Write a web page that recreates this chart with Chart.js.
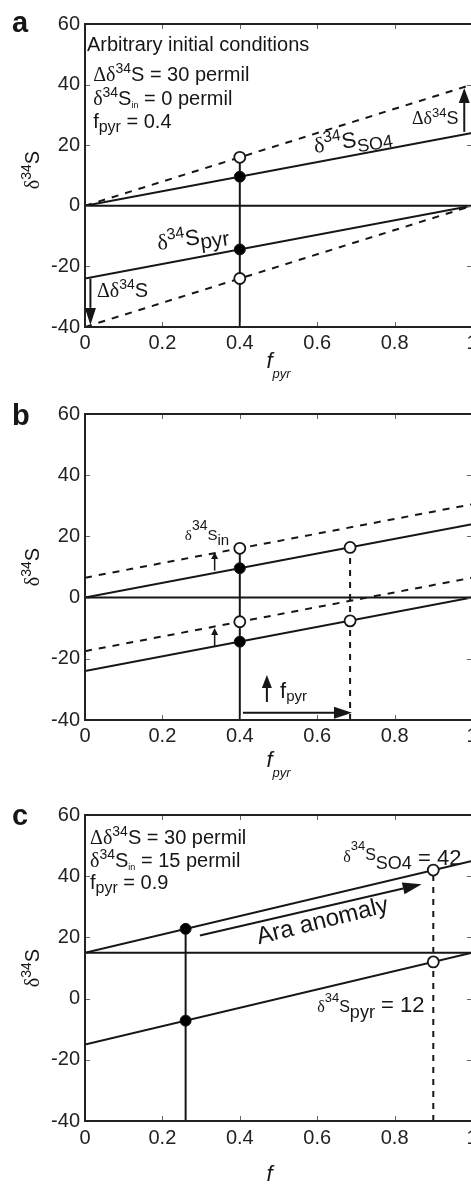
<!DOCTYPE html>
<html>
<head>
<meta charset="utf-8">
<script src="https://cdn.jsdelivr.net/npm/chart.js@4.4.1/dist/chart.umd.min.js"></script>
<style>
  html, body { margin: 0; padding: 0; background: #fff; }
  #wrap { position: relative; width: 471px; height: 1184px; overflow: hidden; }
  .panel { position: absolute; left: 0; width: 490px; }
</style>
</head>
<body>
<div id="wrap">
  <div class="panel" style="top:0;height:390px"><canvas id="chartA" width="490" height="390"></canvas></div>
  <div class="panel" style="top:390px;height:400px"><canvas id="chartB" width="490" height="400"></canvas></div>
  <div class="panel" style="top:790px;height:394px"><canvas id="chartC" width="490" height="394"></canvas></div>
</div>
<script>
// eixos comuns
const fTicks = [0, 0.2, 0.4, 0.6, 0.8, 1];
const dTicks = [-40, -20, 0, 20, 40, 60];
const fEnds = [0, 1];

// painel a - condições iniciais
const aIn = [0, 0];
const aSO4 = [0, 24];
const aPyr = [-24, 0];
const aSO4New = [0, 40];
const aPyrNew = [-40, 0];
const aPick = 0.4;
const aFilled = [9.6, -14.4];
const aOpen = [16, -24];
const aDrop = [-40, 16];

// painel b - aumento de d34S_in e de f_pyr
const bIn = [0, 0];
const bSO4 = [0, 24];
const bPyr = [-24, 0];
const bSO4New = [6.5, 30.5];
const bPyrNew = [-17.5, 6.5];
const bPick = 0.4;
const bFilled = [9.6, -14.4];
const bOpen = [16.1, -7.9];
const bDrop = [-40, 16];
const bPick2 = 0.685;
const bOpen2 = [16.4, -7.6];
const bDrop2 = [-40, 16.4];

// painel c - anomalia Ara
const cIn = [15, 15];
const cSO4 = [15, 45];
const cPyr = [-15, 15];
const cPick = 0.26;
const cFilled = [22.8, -7.2];
const cDrop = [-40, 22.8];
const cPick2 = 0.9;
const cOpen2 = [42, 12];
const cDrop2 = [-40, 42];

const INK = '#161616';
const SANS = '"Liberation Sans", Arial, sans-serif';
const SERIF = '"Liberation Serif", "Times New Roman", serif';

function N(t, size, dy) { return { t, size: size || 20, dy: dy || 0, fam: SANS, st: '' }; }
function G(t, size, dy) { return { t, size: size || 20, dy: dy || 0, fam: SERIF, st: '' }; }
function I(t, size, dy) { return { t, size: size || 20, dy: dy || 0, fam: SANS, st: 'italic ' }; }
function B(t, size) { return { t, size, dy: 0, fam: SANS, st: 'bold ' }; }

function fontOf(p) { return p.st + p.size + 'px ' + p.fam; }

function drawRich(ctx, x, y, parts, align, rot) {
  ctx.save();
  ctx.translate(x, y);
  if (rot) ctx.rotate(rot * Math.PI / 180);
  ctx.textBaseline = 'alphabetic';
  ctx.textAlign = 'left';
  ctx.fillStyle = INK;
  const widths = parts.map(p => { ctx.font = fontOf(p); return ctx.measureText(p.t).width; });
  const total = widths.reduce((a, b) => a + b, 0);
  let cx = align === 'center' ? -total / 2 : align === 'right' ? -total : 0;
  parts.forEach((p, i) => {
    ctx.font = fontOf(p);
    ctx.fillText(p.t, cx, p.dy);
    cx += widths[i];
  });
  ctx.restore();
}

function drawArrow(ctx, x0, y0, x1, y1, head, lw) {
  const ang = Math.atan2(y1 - y0, x1 - x0);
  const hl = head[0], hw = head[1];
  const bx = x1 - hl * Math.cos(ang), by = y1 - hl * Math.sin(ang);
  ctx.save();
  ctx.strokeStyle = INK;
  ctx.fillStyle = INK;
  ctx.lineWidth = lw;
  ctx.beginPath();
  ctx.moveTo(x0, y0);
  ctx.lineTo(bx, by);
  ctx.stroke();
  ctx.beginPath();
  ctx.moveTo(x1, y1);
  ctx.lineTo(bx + hw * Math.sin(ang), by - hw * Math.cos(ang));
  ctx.lineTo(bx - hw * Math.sin(ang), by + hw * Math.cos(ang));
  ctx.closePath();
  ctx.fill();
  ctx.restore();
}

function pts(xs, ys) { return ys.map((y, i) => ({ x: xs[i], y })); }

function line(xs, ys, dash) {
  return {
    data: pts(xs, ys), showLine: true, borderColor: INK, borderWidth: 2,
    borderDash: dash || [], pointRadius: 0, order: 2
  };
}

function vline(f, ys, dash) {
  return line([f, f], ys, dash);
}

function dots(f, ys, open) {
  return {
    data: ys.map(y => ({ x: f, y })), showLine: false,
    pointRadius: open ? 5.5 : 5.5,
    pointBackgroundColor: open ? '#fff' : '#000',
    pointBorderColor: INK, pointBorderWidth: open ? 1.8 : 1, order: 0
  };
}

// moldura, ticks pra dentro, textos e setas
const sketch = {
  id: 'sketch',
  afterDatasetsDraw(chart) {
    const ctx = chart.ctx, a = chart.chartArea;
    const sx = chart.scales.x, sy = chart.scales.y;
    ctx.save();
    ctx.strokeStyle = '#666';
    ctx.lineWidth = 1;
    fTicks.slice(1, -1).forEach(v => {
      const x = Math.round(sx.getPixelForValue(v)) + 0.5;
      ctx.beginPath();
      ctx.moveTo(x, a.top); ctx.lineTo(x, a.top + 5);
      ctx.moveTo(x, a.bottom); ctx.lineTo(x, a.bottom - 5);
      ctx.stroke();
    });
    dTicks.slice(1, -1).forEach(v => {
      const y = Math.round(sy.getPixelForValue(v)) + 0.5;
      ctx.beginPath();
      ctx.moveTo(a.left, y); ctx.lineTo(a.left + 5, y);
      ctx.moveTo(a.right, y); ctx.lineTo(a.right - 5, y);
      ctx.stroke();
    });
    ctx.strokeStyle = '#222';
    ctx.lineWidth = 2;
    ctx.strokeRect(a.left, a.top, a.right - a.left, a.bottom - a.top);
    ctx.restore();
  },
  afterDraw(chart) {
    const ctx = chart.ctx, a = chart.chartArea;
    const sx = chart.scales.x, sy = chart.scales.y;
    const o = chart.options.plugins.sketch;
    (o.arrows || []).forEach(ar => {
      drawArrow(ctx, sx.getPixelForValue(ar.from[0]), sy.getPixelForValue(ar.from[1]),
        sx.getPixelForValue(ar.to[0]), sy.getPixelForValue(ar.to[1]), ar.head, ar.lw || 2);
    });
    (o.notes || []).forEach(n => {
      drawRich(ctx, sx.getPixelForValue(n.at[0]), sy.getPixelForValue(n.at[1]), n.parts, n.align, n.rot);
    });
    // letra do painel
    drawRich(ctx, 12, o.letterY, [B(o.letter, 29)], 'left');
    // título do eixo y
    drawRich(ctx, 39, o.yTitleY, [G('δ', 20), N('34', 14, -8), N('S', 20)], 'center', -90);
    // título do eixo x
    drawRich(ctx, (a.left + a.right) / 2, a.bottom + o.xTitleDy, [I('f', 22), I('pyr', 13, 10)], 'center');
  }
};

function makeChart(id, datasets, opt) {
  return new Chart(document.getElementById(id), {
    type: 'scatter',
    data: { datasets },
    plugins: [sketch],
    options: {
      responsive: false,
      animation: false,
      devicePixelRatio: 1,
      layout: { padding: { top: opt.padTop, right: 18, bottom: 0, left: 0 } },
      plugins: {
        legend: { display: false },
        tooltip: { enabled: false },
        sketch: opt
      },
      scales: {
        x: {
          type: 'linear', min: 0, max: 1,
          afterBuildTicks: s => { s.ticks = fTicks.map(v => ({ value: v })); },
          afterFit: s => { s.height = opt.xH; },
          grid: { display: false, drawTicks: false },
          border: { display: false },
          ticks: {
            font: { family: SANS, size: 20 }, color: '#222', padding: opt.tickPad,
            maxRotation: 0, autoSkip: false, callback: v => String(v)
          }
        },
        y: {
          type: 'linear', min: -40, max: 60,
          afterBuildTicks: s => { s.ticks = dTicks.map(v => ({ value: v })); },
          afterFit: s => { s.width = 85; },
          grid: { display: false, drawTicks: false },
          border: { display: false },
          ticks: {
            font: { family: SANS, size: 20 }, color: '#222', padding: 5,
            autoSkip: false, callback: v => String(v)
          }
        }
      }
    }
  });
}

const d34 = (s1, s2, dy) => [G('δ', s1), N('34', s2, dy)];

makeChart('chartA', [
  dots(aPick, aFilled, false),
  dots(aPick, aOpen, true),
  line(fEnds, aIn),
  line(fEnds, aSO4),
  line(fEnds, aPyr),
  line(fEnds, aSO4New, [7, 7]),
  line(fEnds, aPyrNew, [7, 7]),
  vline(aPick, aDrop)
], {
  padTop: 24, xH: 63, tickPad: 4, letter: 'a', letterY: 32, yTitleY: 170, xTitleDy: 41,
  arrows: [
    { from: [0.014, -24], to: [0.014, -39.3], head: [17, 5.5] },
    { from: [0.98, 24.4], to: [0.98, 38.9], head: [15, 5.5] }
  ],
  notes: [
    { at: [0.005, 51.1], parts: [N('Arbitrary initial conditions', 20)] },
    { at: [0.021, 41.2], parts: [G('Δδ', 20), N('34', 14, -8), N('S = 30 permil', 20)] },
    { at: [0.021, 33.3], parts: [...d34(20, 14, -8), N('S', 20), N('in', 9, 3), N(' = 0 permil', 20)] },
    { at: [0.021, 25.7], parts: [N('f', 20), N('pyr', 16, 4), N(' = 0.4', 20)] },
    { at: [0.594, 17.4], rot: -9, parts: [...d34(22, 16, -9), N('S', 22), N('SO4', 18, 6)] },
    { at: [0.189, -14.6], rot: -8, parts: [...d34(22, 16, -9), N('S', 22), N('pyr', 21, 5)] },
    { at: [0.031, -30.1], parts: [G('Δδ', 20), N('34', 14, -8), N('S', 20)] },
    { at: [0.845, 27.0], parts: [G('Δδ', 18), N('34', 13, -7), N('S', 18)] }
  ]
});

makeChart('chartB', [
  dots(bPick, bFilled, false),
  dots(bPick, bOpen, true),
  dots(bPick2, bOpen2, true),
  line(fEnds, bIn),
  line(fEnds, bSO4),
  line(fEnds, bPyr),
  line(fEnds, bSO4New, [7, 7]),
  line(fEnds, bPyrNew, [7, 7]),
  vline(bPick, bDrop),
  vline(bPick2, bDrop2, [6, 6])
], {
  padTop: 24, xH: 70, tickPad: 4, letter: 'b', letterY: 35, yTitleY: 177, xTitleDy: 47,
  arrows: [
    { from: [0.335, 8.8], to: [0.335, 14.9], head: [7, 3.5], lw: 1.5 },
    { from: [0.335, -16], to: [0.335, -9.9], head: [7, 3.5], lw: 1.5 },
    { from: [0.47, -34.1], to: [0.47, -25.3], head: [13, 5] },
    { from: [0.408, -37.6], to: [0.69, -37.6], head: [18, 6] }
  ],
  notes: [
    { at: [0.258, 18.8], parts: [...d34(15, 14, -10), N('S', 15), N('in', 15, 5)] },
    { at: [0.504, -32.8], parts: [N('f', 22), N('pyr', 15, 3)] }
  ]
});

makeChart('chartC', [
  dots(cPick, cFilled, false),
  dots(cPick2, cOpen2, true),
  line(fEnds, cIn),
  line(fEnds, cSO4),
  line(fEnds, cPyr),
  vline(cPick, cDrop),
  vline(cPick2, cDrop2, [6, 6])
], {
  padTop: 25, xH: 63, tickPad: 5, letter: 'c', letterY: 35, yTitleY: 178, xTitleDy: 60,
  arrows: [
    { from: [0.297, 20.6], to: [0.87, 37.4], head: [19, 6] }
  ],
  notes: [
    { at: [0.013, 50.5], parts: [G('Δδ', 20), N('34', 14, -8), N('S = 30 permil', 20)] },
    { at: [0.013, 43.0], parts: [...d34(20, 14, -8), N('S', 20), N('in', 9, 3), N(' = 15 permil', 20)] },
    { at: [0.013, 35.8], parts: [N('f', 20), N('pyr', 16, 4), N(' = 0.9', 20)] },
    { at: [0.667, 44.6], parts: [...d34(16, 13, -12), N('S', 16, -2), N('SO4', 18, 7), N(' = 42', 22, 3)] },
    { at: [0.6, -4.4], parts: [...d34(16, 13, -10), N('S', 16), N('pyr', 18, 6), N(' = 12', 22)] },
    { at: [0.618, 23.1], rot: -14, align: 'center', parts: [N('Ara anomaly', 24)] }
  ]
});
</script>
</body>
</html>
